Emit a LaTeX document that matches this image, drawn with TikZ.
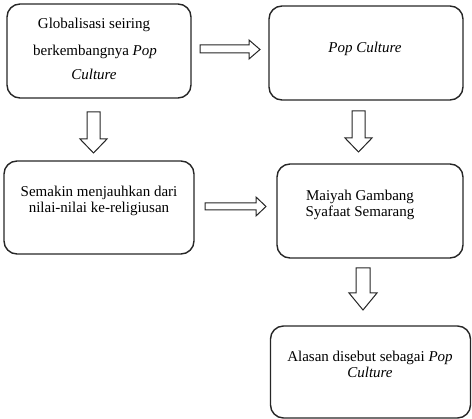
\documentclass[tikz,border=0pt]{standalone}
\usepackage{fontspec}
\setmainfont{Liberation Serif}
\begin{document}
\begin{tikzpicture}[x=1pt,y=-1pt,
  box/.style={draw=black!85,line width=1.4pt,rounded corners=13pt,inner sep=0pt},
  blockarrow/.style={draw=black!85,line width=1pt,line join=miter,fill=white},
  txt/.style={anchor=base,inner sep=0pt,font=\fontsize{15}{17}\selectfont}]
\useasboundingbox (0,0) rectangle (472,419);
% boxes
\node[box,minimum width=184pt,minimum height=94pt] (b1) at (99,51) {};
\node[box,minimum width=194pt,minimum height=94pt] (b2) at (366,53) {};
\node[box,minimum width=190pt,minimum height=93pt] (b3) at (99,207.5) {};
\node[box,minimum width=186pt,minimum height=94pt] (b4) at (370,211) {};
\node[box,minimum width=200pt,minimum height=92pt] (b5) at (370.5,372) {};
% texts
\node[txt] (t1a) at (94,29) {Globalisasi seiring};
\node[txt] (t1b) at (95,56) {berkembangnya \textit{Pop}};
\node[txt] (t1c) at (94,80) {\textit{Culture}};
\node[txt] (t2) at (365,53) {\textit{Pop Culture}};
\node[txt] (t3a) at (99,197) {Semakin menjauhkan dari};
\node[txt] (t3b) at (99,213) {nilai-nilai ke-religiusan};
\node[txt] (t4a) at (360,201) {Maiyah Gambang};
\node[txt] (t4b) at (360,217) {Syafaat Semarang};
\node[txt] (t5a) at (370,362) {Alasan disebut sebagai \textit{Pop}};
\node[txt] (t5b) at (370,378) {\textit{Culture}};
% block arrows
\draw[blockarrow] (200,45)--(249,45)--(249,40)--(260,49.5)--(249,59)--(249,53)--(200,53)--cycle;
\draw[blockarrow] (205,203)--(256,203)--(256,197)--(266,206.5)--(256,216)--(256,210)--(205,210)--cycle;
\draw[blockarrow] (87,112)--(100,112)--(100,139)--(107,139)--(93.5,153)--(80,139)--(87,139)--cycle;
\draw[blockarrow] (352,111)--(365,111)--(365,138)--(372,138)--(358.5,152)--(345,138)--(352,138)--cycle;
\draw[blockarrow] (356,268)--(370,268)--(370,293)--(377,293)--(363,310)--(349,293)--(356,293)--cycle;
\end{tikzpicture}
\end{document}
